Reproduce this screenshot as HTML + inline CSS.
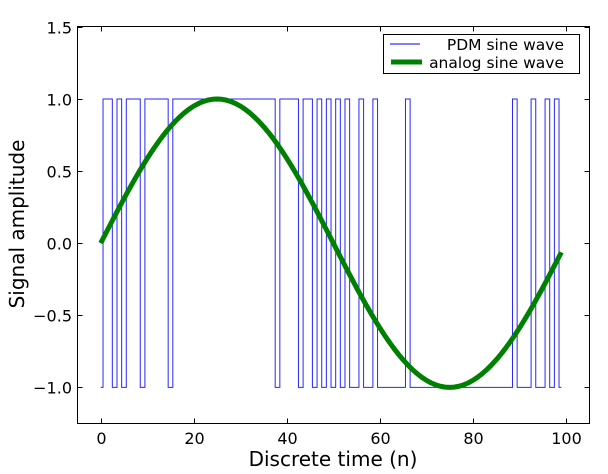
<!DOCTYPE html>
<html><head><meta charset="utf-8"><style>
html,body{margin:0;padding:0;background:#fff;}
svg{display:block;font-family:"DejaVu Sans","Liberation Sans",sans-serif;}
</style></head><body>
<svg id="s" width="608" height="474" viewBox="0 0 608 474">
<rect x="0" y="0" width="608" height="474" fill="#fff"/>
<path id="pdm" d="" fill="none" stroke="#0000ff" stroke-width="1" stroke-opacity="0.85"/>
<path id="sine" d="" fill="none" stroke="#008000" stroke-width="5" stroke-linejoin="round"/>
<rect x="77.5" y="26.5" width="512" height="397" fill="none" stroke="#000" stroke-width="1"/>
<g id="ticks" stroke="#000" stroke-width="1"></g>
<g font-size="16" fill="#000" text-anchor="end" id="ylab"></g>
<g font-size="16" fill="#000" text-anchor="middle" id="xlab"></g>
<text x="333" y="466" font-size="20" text-anchor="middle">Discrete time (n)</text>
<text transform="translate(24,224) rotate(-90)" font-size="20" text-anchor="middle">Signal amplitude</text>
<rect x="383.5" y="34.5" width="196" height="39" fill="#fff" stroke="#000" stroke-width="1"/>
<line x1="390" y1="44" x2="420" y2="44" stroke="#0000ff" stroke-width="1"/>
<line x1="391" y1="62" x2="422" y2="62" stroke="#008000" stroke-width="5"/>
<text x="564" y="50" font-size="15.5" text-anchor="end">PDM sine wave</text>
<text x="564" y="68" font-size="15.5" text-anchor="end">analog sine wave</text>
</svg>
<script>
var X=function(n){return 100.7+n*4.653;};
var Y=function(v){return 243.2-v*144.2;};
var N=100,x=[],y=[],e=0;
for(var i=0;i<N;i++){x.push(Math.sin(2*Math.PI*i/100));}
for(var i=0;i<N;i++){y[i]=x[i]>e?1:-1;e=e+y[i]-x[i];}
var d="M"+X(0)+","+Y(y[0]);
for(var i=1;i<N;i++){d+=" L"+X(i-0.5)+","+Y(y[i-1])+" L"+X(i-0.5)+","+Y(y[i]);}
d+=" L"+X(99)+","+Y(y[99]);
document.getElementById("pdm").setAttribute("d",d);
var s="";
for(var i=0;i<N;i++){s+=(i?" L":"M")+X(i).toFixed(2)+","+Y(x[i]).toFixed(2);}
document.getElementById("sine").setAttribute("d",s);
var t="",yl="",xl="";
var yv=[1.5,1.0,0.5,0.0,-0.5,-1.0];
yv.forEach(function(v){var py=Math.round(Y(v))+0.5;
 t+='<line x1="77.5" y1="'+py+'" x2="82.5" y2="'+py+'"/><line x1="584.5" y1="'+py+'" x2="589.5" y2="'+py+'"/>';
 yl+='<text x="72" y="'+(py+6)+'">'+(v<0?'\u2212':'')+Math.abs(v).toFixed(1)+'</text>';});
[0,20,40,60,80,100].forEach(function(v){var px=Math.round(X(v))+0.5;
 t+='<line x1="'+px+'" y1="423.5" x2="'+px+'" y2="418.5"/><line x1="'+px+'" y1="26.5" x2="'+px+'" y2="31.5"/>';
 xl+='<text x="'+px+'" y="444">'+v+'</text>';});
document.getElementById("ticks").innerHTML=t;
document.getElementById("ylab").innerHTML=yl;
document.getElementById("xlab").innerHTML=xl;
</script>
</body></html>
